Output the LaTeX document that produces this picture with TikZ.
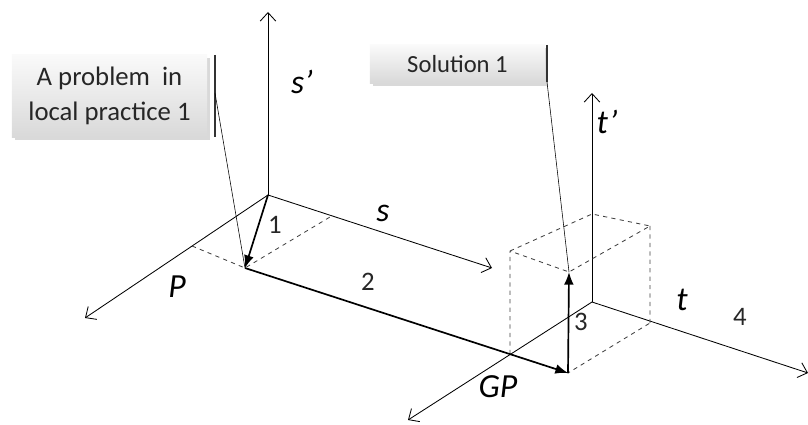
\documentclass[tikz,border=0pt]{standalone}
\usepackage{fontspec}
\setmainfont{Carlito}
\usetikzlibrary{arrows.meta,shadows}

\begin{document}
\begin{tikzpicture}[x=0.025cm, y=-0.025cm, axis/.style={-{Straight Barb[length=6pt,width=11pt]}, semithick}, vec/.style={-{Latex[length=9pt,width=7pt]}, very thick}, aux/.style={dashed, semithick, black!75}, callout/.style={rectangle, top color=gray!4, bottom color=gray!30, drop shadow={opacity=0.3}, align=center, text=black!85}, lab/.style={font=\itshape\fontsize{24}{24}\selectfont}, num/.style={text=black!85, font=\fontsize{19}{19}\selectfont}]
\useasboundingbox (0,0) rectangle (808,425);
% local practice axes
\coordinate (O1) at (268,195);
\coordinate (sp) at (268,12);
\coordinate (s) at (492,268);
\coordinate (P) at (85,318);
\coordinate (A) at (245,268);
\coordinate (Ps) at (192,246);
\coordinate (Ss) at (330,217);
% global practice axes and cube
\coordinate (O2) at (592,302);
\coordinate (tp) at (592,93);
\coordinate (t) at (808,373);
\coordinate (GP) at (408,420);
\coordinate (B) at (568,373);
\coordinate (BL) at (510,354);
\coordinate (BR) at (650,323);
\coordinate (C) at (569,272);
\coordinate (TL) at (510,251);
\coordinate (TB) at (592,214);
\coordinate (TR) at (650,226);
\foreach \o/\e in {O1/sp,O1/s,O1/P,O2/tp,O2/t,O2/GP}{\draw[axis] (\o)--(\e);}
\draw[aux] (Ps)--(A)--(Ss);
\draw[aux] (BL)--(B)--(BR) (TL)--(TB)--(TR)--(C)--(TL) (BL)--(TL) (BR)--(TR);
\draw[vec] (O1)--(A);
\draw[vec] (A)--(B);
\draw[vec] (B)--(C);
% callouts
\node[callout, minimum width=4.875cm, minimum height=2.05cm, font=\fontsize{19}{25}\selectfont] (prob) at (109.5,96) {A problem~ in\\local practice 1};
\node[callout, minimum width=4.375cm, minimum height=0.95cm, font=\fontsize{17.5}{20}\selectfont] (sol) at (457.5,64) {Solution 1};
\coordinate (bar1a) at (215,55);
\coordinate (bar1b) at (215,137);
\coordinate (bar1m) at (215,93);
\coordinate (bar2a) at (547,45);
\coordinate (bar2b) at (547,82);
\draw[thick, black!80] (bar1a)--(bar1b) (bar2a)--(bar2b);
\draw (bar1m)--(A);
\draw (bar2b)--(C);
% labels
\node[lab] (lsp) at (302,82) {s’};
\node[lab] (ls) at (383,213) {s};
\node[lab] (lP) at (177,287) {P};
\node[lab] (ltp) at (607,122) {t’};
\node[lab] (lt) at (682,300) {t};
\node[lab] (lGP) at (498,387) {GP};
\node[num] (n1) at (275,225) {1};
\node[num] (n2) at (368,282) {2};
\node[num] (n3) at (581,322) {3};
\node[num] (n4) at (740,317) {4};
\end{tikzpicture}
\end{document}
